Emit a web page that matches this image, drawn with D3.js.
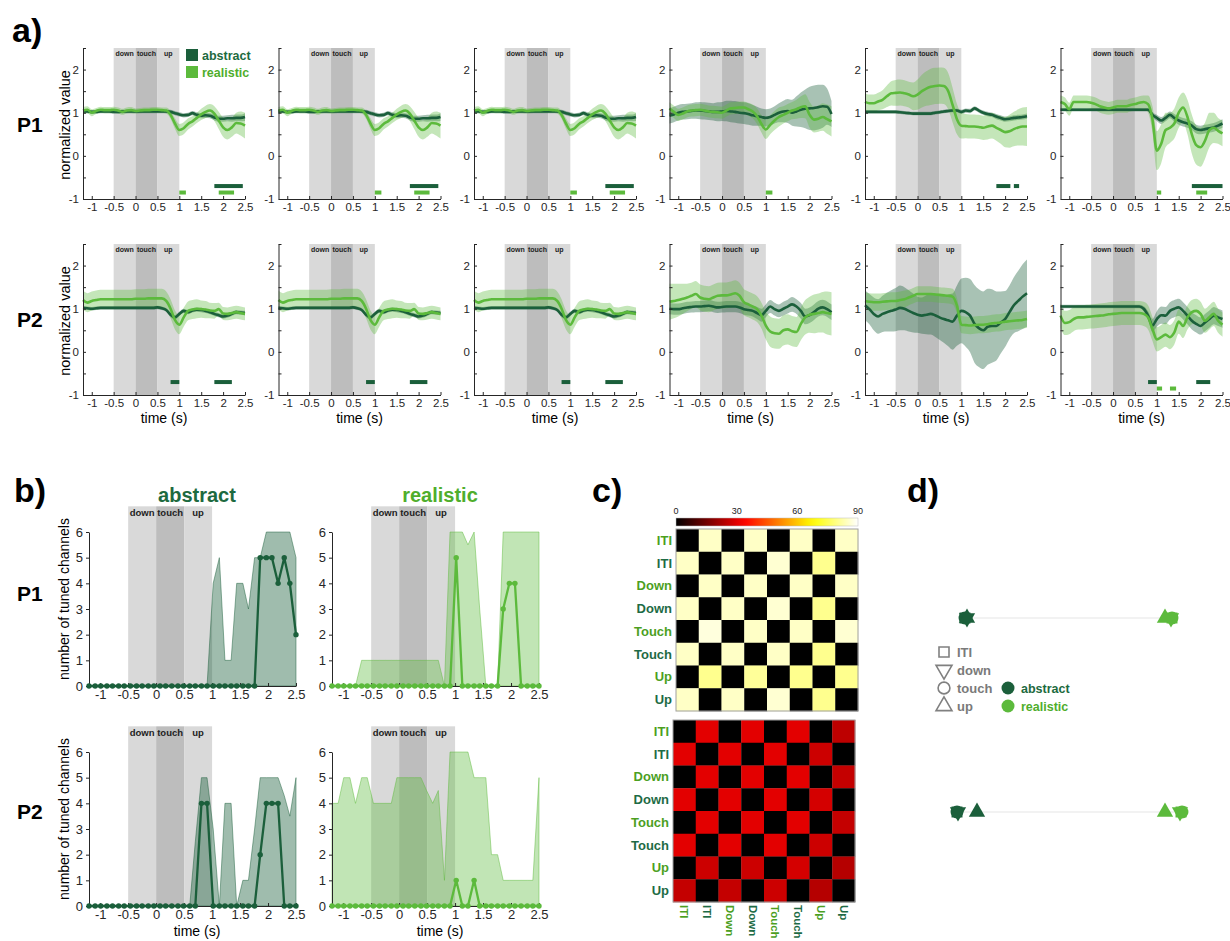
<!DOCTYPE html>
<meta charset="utf-8">
<script src="https://d3js.org/d3.v7.min.js"></script>
<style>
  body { margin: 0; background: #fff; }
  svg { font-family: "Liberation Sans", Arial, sans-serif; }
</style>
<div id="fig"></div>
<script>

// ---------- panel a data: mean and sem per condition, sampled every 0.1 s ----------
const timeA = [-1.2,-1.1,-1.0,-0.9,-0.8,-0.7,-0.6,-0.5,-0.4,-0.3,-0.2,-0.1,0,0.1,0.2,0.3,0.4,0.5,0.6,0.7,0.8,0.9,1.0,1.1,1.2,1.3,1.4,1.5,1.6,1.7,1.8,1.9,2.0,2.1,2.2,2.3,2.4,2.5];
const timeTicks = [-1,-0.5,0,0.5,1,1.5,2,2.5];
const phaseNames = ["down","touch","up"];
const phaseEdges = [-0.5, 0, 0.5, 1];

// P1, columns 1-3
const p1c1Abs = [1.03,1.03,1.02,1.02,1.03,1.03,1.03,1.02,1.02,1.03, 1.03,1.03,1.03,1.03,1.03,1.03,1.03,1.03,1.03,1.03, 1.02,0.99,0.96,0.94,0.95,0.99,0.95,0.93,0.94,0.93, 0.89,0.86,0.86,0.87,0.87,0.88,0.88,0.90];
const p1c1AbsSd = [0.04,0.04,0.04,0.04,0.04,0.04,0.04,0.04,0.04,0.04, 0.04,0.04,0.04,0.04,0.04,0.04,0.04,0.04,0.04,0.04, 0.05,0.05,0.05,0.05,0.05,0.05,0.06,0.06,0.06,0.06, 0.07,0.07,0.07,0.07,0.08,0.08,0.08,0.09];
const p1c1Real = [1.05,1.07,1.00,1.04,1.07,1.06,1.06,1.07,1.05,1.02, 1.05,1.06,1.04,1.05,1.06,1.06,1.07,1.07,1.06,1.05, 0.95,0.75,0.60,0.64,0.74,0.80,0.88,0.96,1.02,1.05, 0.98,0.82,0.66,0.60,0.66,0.76,0.75,0.70];
const p1c1RealSd = [0.08,0.08,0.08,0.07,0.07,0.07,0.07,0.07,0.07,0.07, 0.07,0.07,0.06,0.06,0.06,0.06,0.06,0.06,0.06,0.07, 0.09,0.12,0.14,0.14,0.13,0.12,0.12,0.13,0.14,0.15, 0.17,0.20,0.22,0.22,0.22,0.24,0.28,0.30];
const p1c1Sig = [["realistic",1.0,1.15],["abstract",1.8,2.45],["realistic",1.9,2.25]];

// P1, column 4
const p1c4Abs = [0.93,0.96,1.00,1.02,1.03,1.04,1.05,1.05,1.04,1.03, 1.02,1.02,1.03,1.04,1.03,1.02,1.00,0.99,0.97,0.94, 0.92,0.90,0.88,0.90,0.95,1.00,1.03,1.04,1.00,1.03, 1.07,1.09,1.10,1.11,1.13,1.15,1.14,0.97];
const p1c4AbsSd = [0.18,0.18,0.18,0.18,0.18,0.18,0.19,0.20,0.20,0.20, 0.20,0.22,0.22,0.24,0.25,0.25,0.25,0.25,0.25,0.24, 0.22,0.20,0.20,0.20,0.20,0.22,0.25,0.28,0.30,0.35, 0.40,0.45,0.50,0.52,0.52,0.50,0.42,0.30];
const p1c4Real = [1.10,1.02,0.95,0.98,1.03,1.05,1.06,1.07,1.05,1.03, 1.02,1.01,1.00,1.05,1.10,1.11,1.12,1.12,1.08,1.03, 0.92,0.74,0.61,0.72,0.82,0.90,0.95,1.00,1.05,1.08, 1.13,1.15,0.95,0.84,0.86,0.90,0.85,0.80];
const p1c4RealSd = [0.14,0.14,0.14,0.14,0.14,0.14,0.14,0.14,0.14,0.14, 0.14,0.14,0.14,0.14,0.14,0.14,0.14,0.14,0.15,0.16, 0.18,0.20,0.22,0.22,0.22,0.22,0.20,0.20,0.20,0.22, 0.25,0.28,0.30,0.30,0.30,0.32,0.34,0.35];
const p1c4Sig = [["realistic",1.0,1.15]];

// P1, column 5
const p1c5Abs = [1.02,1.02,1.02,1.02,1.02,1.02,1.02,1.02,1.01,1.00, 0.99,0.98,0.98,0.98,0.98,0.98,1.00,1.01,1.03,1.04, 1.05,1.05,1.02,1.05,1.04,1.10,1.05,1.00,0.97,0.95, 0.91,0.88,0.85,0.86,0.88,0.89,0.90,0.92];
const p1c5AbsSd = [0.04,0.04,0.04,0.04,0.04,0.04,0.04,0.04,0.04,0.04, 0.04,0.04,0.04,0.04,0.04,0.04,0.04,0.04,0.04,0.04, 0.04,0.04,0.05,0.05,0.05,0.05,0.05,0.05,0.05,0.05, 0.06,0.06,0.06,0.06,0.06,0.06,0.06,0.06];
const p1c5Real = [1.25,1.22,1.22,1.26,1.30,1.38,1.45,1.46,1.47,1.45, 1.42,1.38,1.42,1.50,1.56,1.60,1.62,1.63,1.62,1.50, 1.18,0.85,0.70,0.69,0.68,0.68,0.67,0.65,0.68,0.70, 0.65,0.60,0.55,0.57,0.62,0.66,0.68,0.68];
const p1c5RealSd = [0.20,0.20,0.20,0.20,0.22,0.25,0.28,0.30,0.30,0.30, 0.30,0.32,0.35,0.38,0.40,0.42,0.42,0.42,0.42,0.42, 0.40,0.35,0.30,0.28,0.28,0.28,0.28,0.28,0.30,0.30, 0.30,0.32,0.35,0.38,0.40,0.42,0.44,0.45];
const p1c5Sig = [["abstract",1.8,2.12],["abstract",2.2,2.32]];

// P1, column 6
const p1c6Abs = [1.07,1.07,1.07,1.07,1.07,1.07,1.07,1.07,1.07,1.07, 1.07,1.07,1.07,1.07,1.07,1.07,1.07,1.07,1.07,1.07, 1.07,0.95,0.88,0.82,0.88,0.95,0.88,0.82,0.78,0.75, 0.70,0.62,0.60,0.62,0.64,0.66,0.70,0.75];
const p1c6AbsSd = [0.04,0.04,0.04,0.04,0.04,0.04,0.04,0.04,0.04,0.04, 0.04,0.04,0.04,0.04,0.04,0.04,0.04,0.04,0.04,0.04, 0.04,0.06,0.07,0.08,0.08,0.08,0.09,0.10,0.10,0.10, 0.10,0.10,0.10,0.10,0.10,0.10,0.10,0.10];
const p1c6Real = [1.25,1.20,1.08,1.25,1.25,1.25,1.25,1.23,1.20,1.15, 1.12,1.10,1.12,1.15,1.15,1.15,1.18,1.20,1.23,1.25, 1.20,0.85,0.12,0.28,0.60,0.65,0.75,1.00,1.12,0.90, 0.50,0.25,0.20,0.35,0.60,0.65,0.58,0.52];
const p1c6RealSd = [0.15,0.15,0.15,0.15,0.15,0.15,0.15,0.15,0.15,0.15, 0.15,0.15,0.15,0.15,0.15,0.15,0.15,0.15,0.15,0.15, 0.20,0.30,0.45,0.45,0.40,0.35,0.35,0.35,0.35,0.40, 0.45,0.45,0.45,0.42,0.40,0.35,0.30,0.30];
const p1c6Sig = [["realistic",1.0,1.1],["abstract",1.8,2.5],["realistic",1.9,2.15]];

// P2, columns 1-3
const p2c1Abs = [1.02,1.01,1.00,1.01,1.02,1.02,1.02,1.02,1.02,1.02, 1.02,1.02,1.02,1.02,1.02,1.02,1.02,1.03,1.01,0.97, 0.86,0.80,0.88,0.95,0.92,0.96,0.98,0.97,0.95,0.92, 0.88,0.85,0.82,0.84,0.88,0.92,0.91,0.90];
const p2c1AbsSd = [0.04,0.04,0.04,0.04,0.04,0.04,0.04,0.04,0.04,0.04, 0.04,0.04,0.04,0.04,0.04,0.04,0.04,0.04,0.04,0.04, 0.05,0.05,0.05,0.05,0.05,0.05,0.05,0.05,0.05,0.05, 0.05,0.05,0.05,0.05,0.05,0.05,0.05,0.05];
const p2c1Real = [1.20,1.14,1.18,1.20,1.22,1.22,1.22,1.22,1.22,1.22, 1.22,1.22,1.23,1.23,1.23,1.24,1.24,1.24,1.24,1.18, 1.00,0.74,0.63,0.80,0.95,0.98,1.00,0.99,0.98,0.96, 0.95,0.99,0.89,0.88,0.90,0.92,0.90,0.88];
const p2c1RealSd = [0.22,0.22,0.22,0.22,0.22,0.22,0.22,0.22,0.22,0.22, 0.22,0.22,0.22,0.22,0.22,0.22,0.22,0.22,0.22,0.22, 0.22,0.22,0.22,0.22,0.22,0.22,0.22,0.20,0.20,0.18, 0.18,0.15,0.15,0.15,0.15,0.15,0.15,0.15];
const p2c1Sig = [["abstract",0.8,1.0],["abstract",1.8,2.2]];

// P2, column 4
const p2c4Abs = [1.00,0.99,0.99,1.01,1.03,1.04,1.05,1.05,1.06,1.07, 1.05,1.03,1.04,1.05,1.05,1.05,1.03,0.99,0.97,0.95, 0.90,0.85,0.95,1.05,0.99,0.95,1.00,1.05,1.10,1.05, 0.95,0.82,0.85,0.92,1.00,1.03,0.99,0.92];
const p2c4AbsSd = [0.13,0.13,0.13,0.13,0.13,0.13,0.13,0.13,0.13,0.13, 0.13,0.13,0.13,0.13,0.13,0.13,0.13,0.13,0.13,0.13, 0.14,0.15,0.15,0.15,0.15,0.15,0.16,0.16,0.17,0.17, 0.18,0.18,0.18,0.18,0.18,0.18,0.18,0.18];
const p2c4Real = [1.16,1.18,1.20,1.23,1.26,1.30,1.34,1.26,1.23,1.22, 1.26,1.30,1.31,1.31,1.33,1.36,1.30,1.15,1.10,1.05, 0.99,0.84,0.61,0.47,0.43,0.42,0.50,0.52,0.48,0.46, 0.65,0.80,0.86,0.88,0.90,0.92,0.90,0.88];
const p2c4RealSd = [0.42,0.40,0.38,0.35,0.32,0.30,0.30,0.30,0.30,0.30, 0.30,0.30,0.30,0.30,0.30,0.30,0.30,0.30,0.30,0.30, 0.30,0.30,0.32,0.35,0.35,0.35,0.35,0.35,0.35,0.35, 0.38,0.40,0.42,0.45,0.45,0.47,0.50,0.50];
const p2c4Sig = [];

// P2, column 5
const p2c5Abs = [1.08,0.99,0.88,0.82,0.88,0.92,0.95,0.98,1.02,1.00, 0.95,0.90,0.86,0.84,0.86,0.88,0.85,0.80,0.76,0.73, 0.70,0.84,0.95,0.92,0.84,0.65,0.55,0.50,0.58,0.60, 0.60,0.68,0.76,0.92,1.08,1.18,1.28,1.36];
const p2c5AbsSd = [0.35,0.35,0.38,0.40,0.42,0.45,0.48,0.50,0.52,0.50, 0.48,0.45,0.42,0.42,0.45,0.48,0.50,0.52,0.55,0.60, 0.65,0.70,0.75,0.80,0.85,0.90,0.90,0.90,0.88,0.85, 0.80,0.72,0.65,0.62,0.65,0.70,0.75,0.78];
const p2c5Real = [1.18,1.16,1.15,1.15,1.16,1.17,1.18,1.18,1.20,1.22, 1.26,1.30,1.34,1.34,1.34,1.34,1.33,1.32,1.31,1.30, 1.28,1.07,0.63,0.62,0.61,0.62,0.63,0.63,0.64,0.66, 0.67,0.68,0.70,0.71,0.72,0.73,0.74,0.76];
const p2c5RealSd = [0.20,0.20,0.20,0.20,0.20,0.20,0.20,0.20,0.20,0.20, 0.18,0.18,0.18,0.18,0.18,0.18,0.18,0.18,0.18,0.18, 0.18,0.18,0.20,0.20,0.20,0.20,0.20,0.20,0.20,0.20, 0.20,0.20,0.20,0.20,0.20,0.20,0.20,0.20];
const p2c5Sig = [];

// P2, column 6
const p2c6Abs = [1.05,1.05,1.05,1.05,1.05,1.05,1.05,1.05,1.05,1.05, 1.05,1.05,1.05,1.05,1.05,1.05,1.05,1.05,1.05,1.00, 0.84,0.61,0.76,0.85,0.84,0.95,1.00,1.03,0.95,0.84, 0.72,0.65,0.60,0.68,0.76,0.84,0.80,0.76];
const p2c6AbsSd = [0.04,0.04,0.04,0.04,0.04,0.04,0.04,0.04,0.04,0.04, 0.04,0.04,0.04,0.04,0.04,0.04,0.04,0.04,0.04,0.06, 0.10,0.15,0.18,0.20,0.20,0.20,0.20,0.20,0.20,0.20, 0.20,0.20,0.20,0.20,0.20,0.20,0.20,0.20];
const p2c6Real = [0.84,0.67,0.69,0.76,0.80,0.80,0.81,0.82,0.83,0.84, 0.85,0.87,0.88,0.89,0.90,0.90,0.90,0.90,0.90,0.88, 0.80,0.53,0.29,0.34,0.40,0.34,0.45,0.70,0.60,0.80, 0.92,0.95,0.88,0.72,0.80,0.88,0.72,0.63];
const p2c6RealSd = [0.28,0.28,0.28,0.28,0.28,0.28,0.28,0.28,0.28,0.28, 0.28,0.28,0.28,0.28,0.28,0.28,0.28,0.28,0.28,0.28, 0.28,0.28,0.28,0.28,0.28,0.28,0.28,0.28,0.28,0.28, 0.28,0.28,0.28,0.28,0.28,0.28,0.28,0.28];
const p2c6Sig = [["abstract",0.8,1.0],["realistic",1.0,1.12],["realistic",1.3,1.44],["abstract",1.9,2.22]];

// ---------- panel b data: number of tuned channels ----------
const timeB = [-1.20,-1.09,-0.99,-0.88,-0.78,-0.67,-0.57,-0.46,-0.35,-0.25,-0.14,-0.04,0.07,0.17,0.28,0.39,0.49,0.60,0.70,0.81,0.91,1.02,1.13,1.23,1.34,1.44,1.55,1.65,1.76,1.86,1.97,2.07,2.18,2.29,2.39,2.50];
const bP1AbsCount = [0,0,0,0,0,0,0,0,0,0, 0,0,0,0,0,0,0,0,0,0, 0,0,0,0,0,0,0,0,0,5, 5,5,4,5,4,2];
const bP1AbsRange = [0,0,0,0,0,0,0,0,0,0, 0,0,0,0,0,0,0,0,0,0, 0,4,5,1,1,4,4,3,5,5, 6,6,6,6,6,5];
const bP1RealCount = [0,0,0,0,0,0,0,0,0,0, 0,0,0,0,0,0,0,0,0,0, 0,5,0,0,0,0,0,0,0,3, 4,4,0,0,0,0];
const bP1RealRange = [0,0,0,0,0,1,1,1,1,1, 1,1,1,1,1,1,1,1,1,0, 6,6,6,5.5,6,3,0,0,0,6, 6,6,6,6,6,6];
const bP2AbsCount = [0,0,0,0,0,0,0,0,0,0, 0,0,0,0,0,0,0,0,0,4, 4,0,0,0,0,0,0,0,0,2, 4,4,4,0,0,0];
const bP2AbsRange = [0,0,0,0,0,0,0,0,0,0, 0,0,0,0,0,0,0,0,2.5,5, 5,3,0,4,4,0,1,1,3,5, 5,5,5,4.3,3.5,5];
const bP2RealCount = [0,0,0,0,0,0,0,0,0,0, 0,0,0,0,0,0,0,0,0,0, 0,1,0,0,1,0,0,0,0,0, 0,0,0,0,0,0];
const bP2RealRange = [4,4,5,5,4,5,5,4,4,4, 4,5,5,5,5,5,4.5,4,4.5,1, 6,6,6,6,5,5,5,2,2,1, 1,1,1,1,1,5];
const countTicks = [0,1,2,3,4,5,6];

// ---------- panel c data: angle between conditions (deg) ----------
const matLabels = ["ITI","ITI","Down","Down","Touch","Touch","Up","Up"];
const matLabelCond = ["realistic","abstract","realistic","abstract","realistic","abstract","realistic","abstract"];
const matP1 = [
  [0,85,0,85,0,85,0,85],
  [85,0,85,0,86,0,80,0],
  [0,85,0,85,0,85,0,85],
  [85,0,85,0,86,0,80,0],
  [0,87,0,85,0,85,0,86],
  [85,0,85,0,85,0,80,0],
  [0,80,0,81,0,80,0,80],
  [85,0,85,0,86,0,80,0]
];
const matP2 = [
  [0,30,0,30,0,30,0,25],
  [30,0,30,0,30,0,27,0],
  [0,30,0,30,0,30,0,26],
  [30,0,30,0,30,0,28,0],
  [0,30,0,30,0,30,0,26],
  [30,0,30,0,30,0,27,0],
  [0,27,0,27,0,28,0,24],
  [26,0,26,0,27,0,24,0]
];
const colorbarTicks = [0,30,60,90];

// ---------- panel d data: embedding coordinate per phase ----------
const dPhases = ["ITI","down","touch","up"];
const dP1Abs = [-1.02,-1.00,-1.02,-1.00];
const dP1Real = [1.05,1.04,1.05,0.98];
const dP2Abs = [-1.10,-1.09,-1.10,-0.90];
const dP2Real = [1.14,1.13,1.15,0.98];

// ---------- styling ----------
const cAbs = "#1b5f3b", cReal = "#5cba3c";
const txtAbs = "#1d6a40", txtReal = "#4fae2c";
const matTxtReal = "#4c9f1f", matTxtAbs = "#1e6b45";
const grayLight = "#d9d9d9", grayDark = "#bdbdbd";
const axisColor = "#262626";

var svg = d3.select("#fig").append("svg")
  .attr("width", 1230)
  .attr("height", 941);

function panelLetter(x, y, s) {
  svg.append("text").attr("x", x).attr("y", y)
    .style("font-size", "34px").style("font-weight", "bold").text(s);
}

function rowLabel(x, y, s) {
  svg.append("text").attr("x", x).attr("y", y)
    .style("font-size", "21px").style("font-weight", "bold").text(s);
}

// grey shading for down / touch / up
function phaseShade(g, x, yTop, yBot, fs, dy) {
  phaseNames.forEach(function(p, i) {
    g.append("rect")
      .attr("x", x(phaseEdges[i]))
      .attr("y", yTop)
      .attr("width", x(phaseEdges[i + 1]) - x(phaseEdges[i]))
      .attr("height", yBot - yTop)
      .attr("fill", i == 1 ? grayDark : grayLight);
    g.append("text")
      .attr("x", (x(phaseEdges[i]) + x(phaseEdges[i + 1])) / 2)
      .attr("y", yTop + dy)
      .attr("text-anchor", "middle")
      .style("font-size", fs + "px")
      .style("font-weight", "bold")
      .attr("fill", "#222")
      .text(p);
  });
}

function styleAxis(g, fs) {
  g.attr("color", axisColor)
    .attr("font-family", "Liberation Sans, Arial, sans-serif")
    .attr("font-size", fs);
}

// ---------- panel a ----------
panelLetter(12, 42, "a)");

var colX = [83, 278.5, 474, 669.5, 865, 1060.5];
var rowTop = [48, 244];

var rows = [
  [
    {abs: p1c1Abs, absSd: p1c1AbsSd, real: p1c1Real, realSd: p1c1RealSd, sig: p1c1Sig},
    {abs: p1c1Abs, absSd: p1c1AbsSd, real: p1c1Real, realSd: p1c1RealSd, sig: p1c1Sig},
    {abs: p1c1Abs, absSd: p1c1AbsSd, real: p1c1Real, realSd: p1c1RealSd, sig: p1c1Sig},
    {abs: p1c4Abs, absSd: p1c4AbsSd, real: p1c4Real, realSd: p1c4RealSd, sig: p1c4Sig},
    {abs: p1c5Abs, absSd: p1c5AbsSd, real: p1c5Real, realSd: p1c5RealSd, sig: p1c5Sig},
    {abs: p1c6Abs, absSd: p1c6AbsSd, real: p1c6Real, realSd: p1c6RealSd, sig: p1c6Sig}
  ],
  [
    {abs: p2c1Abs, absSd: p2c1AbsSd, real: p2c1Real, realSd: p2c1RealSd, sig: p2c1Sig},
    {abs: p2c1Abs, absSd: p2c1AbsSd, real: p2c1Real, realSd: p2c1RealSd, sig: p2c1Sig},
    {abs: p2c1Abs, absSd: p2c1AbsSd, real: p2c1Real, realSd: p2c1RealSd, sig: p2c1Sig},
    {abs: p2c4Abs, absSd: p2c4AbsSd, real: p2c4Real, realSd: p2c4RealSd, sig: p2c4Sig},
    {abs: p2c5Abs, absSd: p2c5AbsSd, real: p2c5Real, realSd: p2c5RealSd, sig: p2c5Sig},
    {abs: p2c6Abs, absSd: p2c6AbsSd, real: p2c6Real, realSd: p2c6RealSd, sig: p2c6Sig}
  ]
];

function tracePanel(x0, top, d, col, row) {
  var x = d3.scaleLinear().domain([-1.2, 2.5]).range([x0, x0 + 162]);
  var y = d3.scaleLinear().domain([-1, 2.5]).range([top + 151, top]);
  var g = svg.append("g");

  phaseShade(g, x, y(2.5), y(-1), 7, 8);

  var series = [[d.abs, d.absSd, cAbs], [d.real, d.realSd, cReal]];
  series.forEach(function(s) {
    var band = d3.area().curve(d3.curveMonotoneX)
      .x(function(v, i) { return x(timeA[i]); })
      .y0(function(v, i) { return y(v - s[1][i]); })
      .y1(function(v, i) { return y(v + s[1][i]); });
    g.append("path").datum(s[0])
      .attr("d", band)
      .attr("fill", s[2])
      .attr("fill-opacity", s[2] == cAbs ? 0.38 : 0.36);
  });
  series.forEach(function(s) {
    var line = d3.line().curve(d3.curveMonotoneX)
      .x(function(v, i) { return x(timeA[i]); })
      .y(function(v) { return y(v); });
    g.append("path").datum(s[0])
      .attr("d", line)
      .attr("fill", "none")
      .attr("stroke", s[2])
      .attr("stroke-width", 2.6);
  });

  // significance bars
  g.selectAll(".sig").data(d.sig).enter().append("rect")
    .attr("x", function(b) { return x(b[1]); })
    .attr("width", function(b) { return x(b[2]) - x(b[1]); })
    .attr("y", function(b) { return y(b[0] == "abstract" ? -0.7 : -0.85) - 2; })
    .attr("height", 4)
    .attr("fill", function(b) { return b[0] == "abstract" ? cAbs : cReal; });

  // axes
  g.append("g")
    .attr("transform", "translate(" + x0 + ",0)")
    .call(d3.axisLeft(y).tickValues([-1,-0.5,0,0.5,1,1.5,2,2.5])
      .tickSizeInner(-3).tickSizeOuter(0).tickPadding(4)
      .tickFormat(function(v) { return Number.isInteger(v) ? String(v) : ""; }))
    .call(function(a) { styleAxis(a, 11.5); });
  g.append("g")
    .attr("transform", "translate(0," + y(-1) + ")")
    .call(d3.axisBottom(x).tickValues(timeTicks)
      .tickSizeInner(-3).tickSizeOuter(0).tickPadding(4)
      .tickFormat(function(v) { return String(v); }))
    .call(function(a) { styleAxis(a, 11.5); });

  if (col == 0) {
    g.append("text")
      .attr("transform", "translate(70," + (top + 77) + ") rotate(-90)")
      .attr("text-anchor", "middle")
      .style("font-size", "14.5px")
      .text("normalized value");
  }
  if (row == 1) {
    g.append("text")
      .attr("x", x0 + 81).attr("y", y(-1) + 28)
      .attr("text-anchor", "middle")
      .style("font-size", "14px")
      .text("time (s)");
  }
}

rows.forEach(function(r, ri) {
  r.forEach(function(d, ci) { tracePanel(colX[ci], rowTop[ri], d, ci, ri); });
});
rowLabel(17, 132, "P1");
rowLabel(17, 327, "P2");

// legend in first trace panel
[["abstract", cAbs, txtAbs], ["realistic", cReal, txtReal]].forEach(function(l, i) {
  svg.append("rect").attr("x", 186).attr("y", 49 + i * 17).attr("width", 12).attr("height", 12).attr("fill", l[1]);
  svg.append("text").attr("x", 202).attr("y", 59.5 + i * 17)
    .style("font-size", "12.5px").style("font-weight", "bold")
    .attr("fill", l[2]).text(l[0]);
});

// ---------- panel b ----------
panelLetter(14, 502, "b)");

function countPanel(x0, y0, cnt, range, color, showTime) {
  var x = d3.scaleLinear().domain([-1.2, 2.5]).range([x0, x0 + 207]);
  var y = d3.scaleLinear().domain([0, 6]).range([y0, y0 - 154]);
  var g = svg.append("g");

  phaseShade(g, x, y(7), y(0), 9.5, 10);

  var area = d3.area()
    .x(function(v, i) { return x(timeB[i]); })
    .y0(y(0))
    .y1(function(v) { return y(v); });
  g.append("path").datum(range)
    .attr("d", area)
    .attr("fill", color)
    .attr("fill-opacity", color == cAbs ? 0.42 : 0.38)
    .attr("stroke", color)
    .attr("stroke-opacity", 0.6)
    .attr("stroke-width", 0.8);

  g.append("g")
    .attr("transform", "translate(" + x0 + ",0)")
    .call(d3.axisLeft(y).tickValues(countTicks).tickSizeInner(3).tickSizeOuter(0).tickPadding(3)
      .tickFormat(d3.format("d")))
    .call(function(a) { styleAxis(a, 13); });
  g.append("g")
    .attr("transform", "translate(0," + y0 + ")")
    .call(d3.axisBottom(x).tickValues(timeTicks).tickSizeInner(-3).tickSizeOuter(0).tickPadding(4)
      .tickFormat(function(v) { return String(v); }))
    .call(function(a) { styleAxis(a, 13); });

  var line = d3.line()
    .x(function(v, i) { return x(timeB[i]); })
    .y(function(v) { return y(v); });
  g.append("path").datum(cnt)
    .attr("d", line)
    .attr("fill", "none")
    .attr("stroke", color)
    .attr("stroke-width", 2.3);
  g.selectAll(".dot").data(cnt).enter().append("circle")
    .attr("cx", function(v, i) { return x(timeB[i]); })
    .attr("cy", function(v) { return y(v); })
    .attr("r", 2.7)
    .attr("fill", color);

  if (showTime) {
    g.append("text")
      .attr("x", x0 + 108).attr("y", y0 + 30)
      .attr("text-anchor", "middle")
      .style("font-size", "14px")
      .text("time (s)");
  }
}

countPanel(89, 686, bP1AbsCount, bP1AbsRange, cAbs, false);
countPanel(332, 686, bP1RealCount, bP1RealRange, cReal, false);
countPanel(89, 906, bP2AbsCount, bP2AbsRange, cAbs, true);
countPanel(332, 906, bP2RealCount, bP2RealRange, cReal, true);

svg.append("text").attr("x", 197).attr("y", 502).attr("text-anchor", "middle")
  .style("font-size", "20px").style("font-weight", "bold").attr("fill", txtAbs).text("abstract");
svg.append("text").attr("x", 440).attr("y", 502).attr("text-anchor", "middle")
  .style("font-size", "20px").style("font-weight", "bold").attr("fill", txtReal).text("realistic");
rowLabel(17, 601, "P1");
rowLabel(17, 819, "P2");
[599, 819].forEach(function(cy) {
  svg.append("text")
    .attr("transform", "translate(69," + cy + ") rotate(-90)")
    .attr("text-anchor", "middle")
    .style("font-size", "14px")
    .text("number of tuned channels");
});

// ---------- panel c ----------
panelLetter(592, 502, "c)");

function hot(v) {
  var t = Math.max(0, Math.min(1, v / 90));
  var r = Math.min(1, t / 0.375);
  var gg = Math.max(0, Math.min(1, (t - 0.375) / 0.375));
  var b = Math.max(0, (t - 0.75) / 0.25);
  return d3.rgb(r * 255, gg * 255, b * 255).toString();
}

function matrix(x0, y0, size, vals, colLabels) {
  var xb = d3.scaleBand().domain(d3.range(8)).range([x0, x0 + size]);
  var yb = d3.scaleBand().domain(d3.range(8)).range([y0, y0 + size]);
  var g = svg.append("g");
  vals.forEach(function(row, i) {
    g.selectAll(".c" + i).data(row).enter().append("rect")
      .attr("x", function(v, j) { return xb(j); })
      .attr("y", yb(i))
      .attr("width", xb.bandwidth() + 0.3)
      .attr("height", yb.bandwidth() + 0.3)
      .attr("fill", function(v) { return hot(v); });
  });
  g.append("rect").attr("x", x0).attr("y", y0).attr("width", size).attr("height", size)
    .attr("fill", "none").attr("stroke", "#a0a0a0").attr("stroke-width", 1);
  matLabels.forEach(function(l, i) {
    g.append("text")
      .attr("x", x0 - 4).attr("y", yb(i) + yb.bandwidth() / 2 + 4.5)
      .attr("text-anchor", "end")
      .style("font-size", "13px").style("font-weight", "bold")
      .attr("fill", matLabelCond[i] == "abstract" ? matTxtAbs : matTxtReal)
      .text(l);
    if (colLabels) {
      // column labels run downward, like the original
      g.append("text")
        .attr("transform", "translate(" + (xb(i) + xb.bandwidth() / 2 - 4) + "," + (y0 + size + 3) + ") rotate(90)")
        .style("font-size", "11.5px").style("font-weight", "bold")
        .attr("fill", matLabelCond[i] == "abstract" ? matTxtAbs : matTxtReal)
        .text(l);
    }
  });
}

// colorbar
var cbX = d3.scaleLinear().domain([0, 90]).range([676, 858]);
var grad = svg.append("defs").append("linearGradient").attr("id", "hotGrad");
d3.range(0, 91, 5).forEach(function(v) {
  grad.append("stop").attr("offset", (v / 90 * 100) + "%").attr("stop-color", hot(v));
});
svg.append("rect").attr("x", cbX(0)).attr("y", 518).attr("width", cbX(90) - cbX(0)).attr("height", 8)
  .attr("fill", "url(#hotGrad)").attr("stroke", "#bbb").attr("stroke-width", 0.5);
colorbarTicks.forEach(function(t) {
  svg.append("text").attr("x", cbX(t)).attr("y", 514).attr("text-anchor", "middle")
    .style("font-size", "9px").attr("fill", "#222").text(t);
});

matrix(676, 529, 182, matP1, false);
matrix(673, 720, 182, matP2, true);

// ---------- panel d ----------
panelLetter(907, 502, "d)");

var xD = d3.scaleLinear().domain([-1.2, 1.2]).range([947, 1187]);
function symFor(p) {
  if (p == "ITI") return d3.symbol().type(d3.symbolSquare).size(120);
  if (p == "touch") return d3.symbol().type(d3.symbolCircle).size(130);
  return d3.symbol().type(d3.symbolTriangle).size(115);
}

function embedRow(yc, absX, realX) {
  var all = absX.concat(realX);
  svg.append("line")
    .attr("x1", xD(d3.min(all))).attr("x2", xD(d3.max(all)))
    .attr("y1", yc).attr("y2", yc)
    .attr("stroke", "#e6e6e6").attr("stroke-width", 1.2);
  [[absX, cAbs], [realX, cReal]].forEach(function(s) {
    s[0].forEach(function(v, i) {
      svg.append("path")
        .attr("d", symFor(dPhases[i])())
        .attr("transform", "translate(" + xD(v) + "," + yc + ")" + (dPhases[i] == "down" ? " rotate(180)" : ""))
        .attr("fill", s[1]);
    });
  });
}
embedRow(618, dP1Abs, dP1Real);
embedRow(812, dP2Abs, dP2Real);

// legend
dPhases.forEach(function(p, i) {
  var yy = 652 + i * 18;
  svg.append("path")
    .attr("d", d3.symbol().type(p == "ITI" ? d3.symbolSquare : p == "touch" ? d3.symbolCircle : d3.symbolTriangle).size(p == "ITI" ? 100 : 110)())
    .attr("transform", "translate(944," + yy + ")" + (p == "down" ? " rotate(180)" : ""))
    .attr("fill", "none").attr("stroke", "#808080").attr("stroke-width", 1.6);
  svg.append("text").attr("x", 957).attr("y", yy + 5)
    .style("font-size", "13px").style("font-weight", "bold").attr("fill", "#7a7a7a").text(p);
});
[["abstract", cAbs, txtAbs], ["realistic", cReal, txtReal]].forEach(function(l, i) {
  var yy = 688 + i * 18;
  svg.append("circle").attr("cx", 1008).attr("cy", yy).attr("r", 6.5).attr("fill", l[1]);
  svg.append("text").attr("x", 1021).attr("y", yy + 4.5)
    .style("font-size", "12.5px").style("font-weight", "bold").attr("fill", l[2]).text(l[0]);
});

</script>
